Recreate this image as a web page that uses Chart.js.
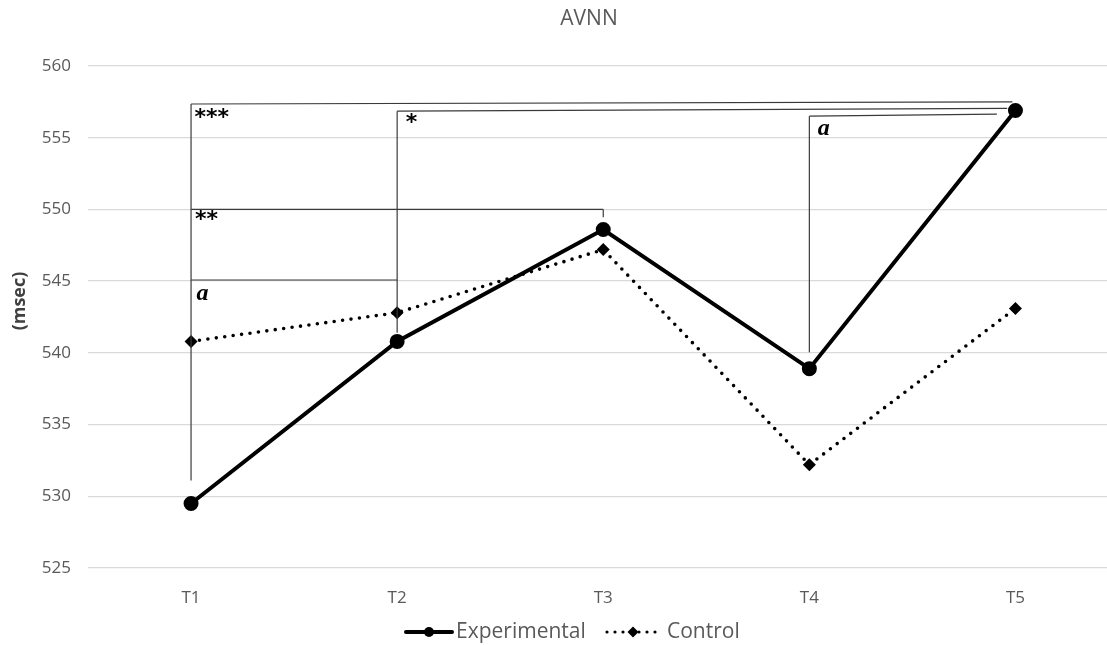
<!DOCTYPE html>
<html>
<head>
<meta charset="utf-8">
<script src="https://cdn.jsdelivr.net/npm/chart.js@4/dist/chart.umd.min.js"></script>
<style>
html,body{margin:0;padding:0;background:#fff;overflow:hidden;}
#wrap{width:1107px;height:645px;position:relative;overflow:hidden;}
</style>
</head>
<body>
<div id="wrap"><canvas id="c" width="1117" height="645"></canvas></div>
<script>
// ---- data ----
const categories = ['T1', 'T2', 'T3', 'T4', 'T5'];
const experimental = [529.5, 540.8, 548.6, 538.9, 556.9];
const control = [540.8, 542.8, 547.2, 532.2, 543.1];
const yTicks = [525, 530, 535, 540, 545, 550, 555, 560];
const chartTitle = 'AVNN';
const yTitle = '(msec)';
const seriesNames = ['Experimental', 'Control'];

// significance brackets: segments [x1, y1, x2, y2] in (category index, msec)
const bracketSegments = [
  [0, 531.1, 0, 557.35],
  [0, 557.35, 3.985, 557.5],
  [1, 541.4, 1, 556.85],
  [1, 556.85, 3.96, 557.05],
  [0, 550.0, 2, 550.0],
  [2, 550.0, 2, 549.45],
  [0, 545.08, 1, 545.08],
  [3, 540.05, 3, 556.5],
  [3, 556.5, 3.91, 556.65]
];
// significance labels: [text, category index, msec, kind]
const bracketLabels = [
  ['***', 0.1, 556.35, 'star'],
  ['*', 1.07, 556.0, 'star'],
  ['**', 0.075, 549.25, 'star'],
  ['a', 0.055, 544.1, 'letter'],
  ['a', 3.07, 555.65, 'letter']
];

const GREY = '#595959';

function legendLine(ctx, x1, x2, y, dotted) {
  ctx.save();
  ctx.strokeStyle = '#000';
  ctx.lineCap = 'round';
  if (dotted) { ctx.lineWidth = 3.2; ctx.setLineDash([0, 8]); }
  else { ctx.lineWidth = 4; }
  ctx.beginPath(); ctx.moveTo(x1, y); ctx.lineTo(x2, y); ctx.stroke();
  ctx.restore();
}

const overlay = {
  id: 'overlay',
  afterDatasetsDraw(chart) {
    const ctx = chart.ctx;
    const xs = chart.scales.x, ys = chart.scales.y;
    ctx.save();
    ctx.strokeStyle = '#3a3a3a';
    ctx.lineWidth = 1.2;
    bracketSegments.forEach(s => {
      ctx.beginPath();
      ctx.moveTo(xs.getPixelForValue(s[0]), ys.getPixelForValue(s[1]));
      ctx.lineTo(xs.getPixelForValue(s[2]), ys.getPixelForValue(s[3]));
      ctx.stroke();
    });
    ctx.fillStyle = '#000';
    ctx.textAlign = 'center';
    ctx.textBaseline = 'middle';
    bracketLabels.forEach(l => {
      ctx.font = l[3] === 'star' ? 'bold 22px "DejaVu Sans"' : 'bold italic 24px "Liberation Serif"';
      ctx.fillText(l[0], xs.getPixelForValue(l[1]), ys.getPixelForValue(l[2]));
    });
    ctx.restore();
  },
  afterDraw(chart) {
    const ctx = chart.ctx;
    ctx.save();
    ctx.fillStyle = GREY;
    ctx.font = '21px "Open Sans"';
    ctx.textAlign = 'center';
    ctx.textBaseline = 'middle';
    ctx.fillText(chartTitle, 589, 19);
    ctx.save();
    ctx.translate(20, 301);
    ctx.rotate(-Math.PI / 2);
    ctx.font = 'bold 18px "Open Sans"';
    ctx.fillStyle = '#404040';
    ctx.fillText(yTitle, 0, 0);
    ctx.restore();
    // legend
    const ly = 632;
    legendLine(ctx, 406, 452, ly, false);
    ctx.fillStyle = '#000';
    ctx.beginPath(); ctx.arc(429, ly, 5, 0, Math.PI * 2); ctx.fill();
    ctx.fillStyle = GREY;
    ctx.font = '21px "Open Sans"';
    ctx.textAlign = 'left';
    ctx.fillText(seriesNames[0], 456, ly);
    legendLine(ctx, 607, 659, ly, true);
    ctx.fillStyle = '#000';
    ctx.beginPath();
    ctx.moveTo(633, ly - 5.5); ctx.lineTo(638.5, ly); ctx.lineTo(633, ly + 5.5); ctx.lineTo(627.5, ly);
    ctx.closePath(); ctx.fill();
    ctx.fillStyle = GREY;
    ctx.fillText(seriesNames[1], 667, ly);
    ctx.restore();
  }
};

new Chart(document.getElementById('c'), {
  type: 'line',
  data: {
    datasets: [
      {
        label: seriesNames[0],
        data: experimental.map((v, i) => ({x: i, y: v})),
        borderColor: '#000', backgroundColor: '#000',
        borderWidth: 4,
        pointRadius: 5.5, pointStyle: 'circle',
        pointBackgroundColor: '#000', pointBorderColor: '#000',
        tension: 0, order: 1
      },
      {
        label: seriesNames[1],
        data: control.map((v, i) => ({x: i, y: v})),
        borderColor: '#000', backgroundColor: '#000',
        borderWidth: 3.6,
        borderDash: [0, 8.5], borderCapStyle: 'round',
        pointRadius: 6.5, pointStyle: 'rectRot',
        pointBackgroundColor: '#000', pointBorderColor: '#000', pointBorderWidth: 0,
        tension: 0, order: 2
      }
    ]
  },
  options: {
    responsive: false,
    animation: false,
    layout: {padding: {top: 66, bottom: 37, left: 0, right: 0}},
    plugins: {legend: {display: false}, title: {display: false}, tooltip: {enabled: false}},
    scales: {
      x: {
        type: 'linear',
        min: -0.5, max: 4.4466,
        grid: {display: false},
        border: {display: false},
        afterBuildTicks: s => { s.ticks = categories.map((c, i) => ({value: i})); },
        afterFit: s => { s.height = 40; },
        ticks: {
          callback: v => categories[v],
          color: GREY, font: {family: 'Open Sans', size: 17}, padding: 12,
          maxRotation: 0, autoSkip: false
        }
      },
      y: {
        min: yTicks[0], max: yTicks[yTicks.length - 1],
        afterBuildTicks: s => { s.ticks = yTicks.map(v => ({value: v})); },
        afterFit: s => { s.width = 88; },
        grid: {color: '#d9d9d9', lineWidth: 1.3, drawTicks: false},
        border: {display: false},
        ticks: {color: GREY, font: {family: 'Open Sans', size: 17}, padding: 17}
      }
    }
  },
  plugins: [overlay]
});
</script>
</body>
</html>
